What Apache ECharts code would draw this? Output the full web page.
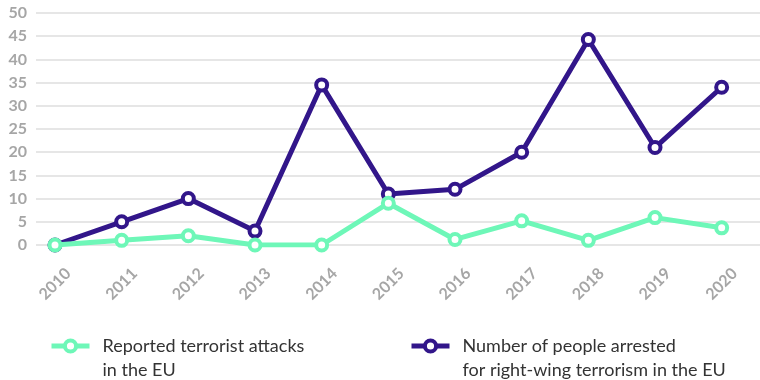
<!DOCTYPE html>
<html>
<head>
<meta charset="utf-8">
<script src="https://cdn.jsdelivr.net/npm/echarts@6/dist/echarts.min.js"></script>
<style>
  html, body { margin: 0; padding: 0; background: #fff; }
  #chart { width: 760px; height: 380px; }
</style>
</head>
<body>
<div id="chart"></div>
<script>
// Right-wing terrorism in the EU, 2010–2020
const years = [2010, 2011, 2012, 2013, 2014, 2015, 2016, 2017, 2018, 2019, 2020];
const attacks = [0, 1, 2, 0, 0, 9, 1.2, 5.2, 1, 5.9, 3.7];
const arrests = [0, 5, 10, 3, 34.5, 11, 12, 20, 44.3, 21, 34];
const yTicks = [0, 5, 10, 15, 20, 25, 30, 35, 40, 45, 50];

const attacksName = 'Reported terrorist attacks\nin the EU';
const arrestsName = 'Number of people arrested\nfor right-wing terrorism in the EU';

const GREEN = '#6ef7b8';
const PURPLE = '#32168a';
const FONT = 'Lato';

function pairs(values) {
  return years.map((y, i) => [y, values[i]]);
}

function lineSeries(name, values, color, z) {
  return {
    name: name,
    type: 'line',
    data: pairs(values),
    z: z,
    symbol: 'circle',
    symbolSize: 11,
    showAllSymbol: true,
    lineStyle: { color: color, width: 5 },
    itemStyle: { color: '#fff', borderColor: color, borderWidth: 4 },
    emphasis: { disabled: true }
  };
}

function legendBlock(name, left) {
  return {
    data: [name],
    left: left,
    top: 305,
    orient: 'horizontal',
    itemWidth: 38,
    itemHeight: 14,
    selectedMode: false,
    lineStyle: { width: 5 },
    itemStyle: { borderWidth: 4 },
    textStyle: {
      fontFamily: FONT,
      fontSize: 18,
      color: '#333',
      lineHeight: 24,
      padding: [24, 0, 0, 8],
      rich: { t: {} }
    }
  };
}

const chart = echarts.init(document.getElementById('chart'), null, { renderer: 'canvas' });
chart.setOption({
  animation: false,
  backgroundColor: '#fff',
  grid: { left: 36, right: 0, top: 13, bottom: 135, containLabel: false },
  xAxis: {
    type: 'value',
    min: 2009.715,
    max: 2020.575,
    axisLine: { show: false },
    axisTick: { show: false },
    splitLine: { show: false },
    axisLabel: {
      customValues: years,
      rotate: 45,
      align: 'center',
      verticalAlign: 'middle',
      margin: 39,
      color: '#a6a6a6',
      fontFamily: FONT,
      fontWeight: 'bold',
      fontSize: 16,
      formatter: v => String(v)
    }
  },
  yAxis: {
    type: 'value',
    min: yTicks[0],
    max: yTicks[yTicks.length - 1],
    interval: 5,
    axisLine: { show: false },
    axisTick: { show: false },
    splitLine: { lineStyle: { color: '#e6e6e6', width: 2 } },
    axisLabel: {
      margin: 9,
      color: '#a6a6a6',
      fontFamily: FONT,
      fontWeight: 'bold',
      fontSize: 16
    }
  },
  legend: [legendBlock(attacksName, 44), legendBlock(arrestsName, 404)],
  series: [
    lineSeries(arrestsName, arrests, PURPLE, 2),
    lineSeries(attacksName, attacks, GREEN, 3)
  ]
});
</script>
</body>
</html>
